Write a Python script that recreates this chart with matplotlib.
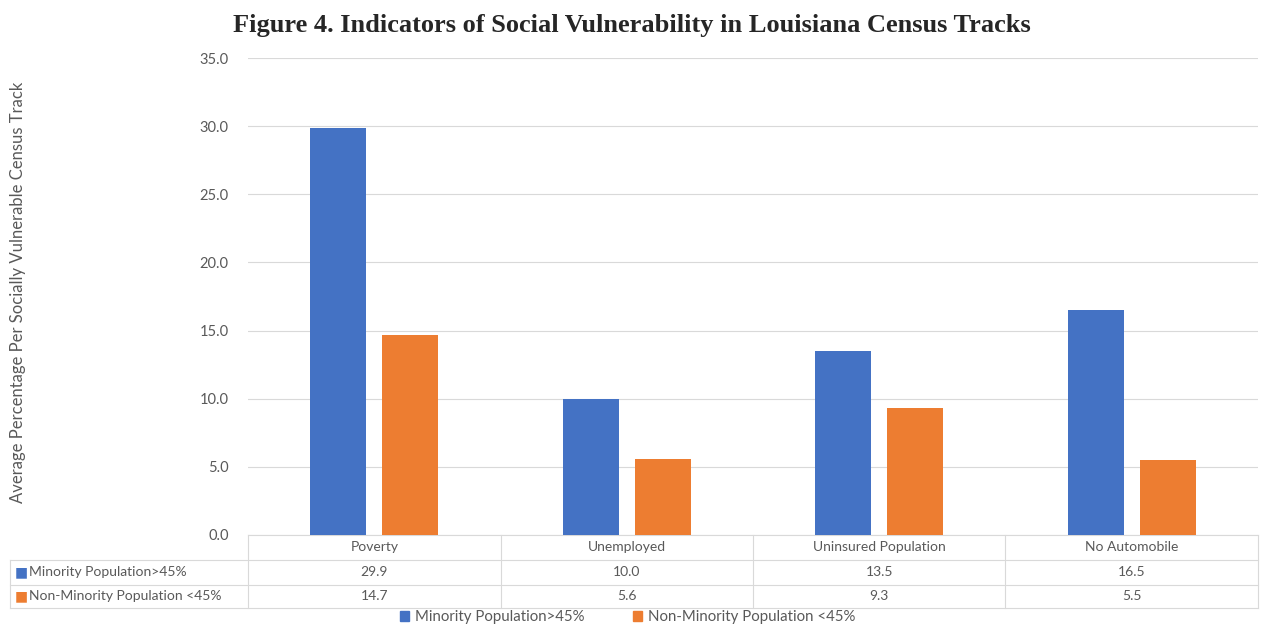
import matplotlib.pyplot as plt
import matplotlib.transforms as mtransforms
from matplotlib.patches import Patch

plt.rcParams['font.family'] = ['Lato', 'DejaVu Sans']

categories = ['Poverty', 'Unemployed', 'Uninsured Population', 'No Automobile']
minority = [29.9, 10.0, 13.5, 16.5]
non_minority = [14.7, 5.6, 9.3, 5.5]
series_names = ['Minority Population>45%', 'Non-Minority Population <45%']
yticks = [0, 5, 10, 15, 20, 25, 30, 35]

blue = '#4472C4'
orange = '#ED7D31'
grey_text = '#595959'
grid_c = '#D9D9D9'
fs = 10

fig = plt.figure(figsize=(12.63, 6.26), dpi=100)
ax = fig.add_axes([0.1964, 0.1454, 0.7996, 0.7619])

x = list(range(len(categories)))
w = 0.222
off = 0.143
ax.bar([i - off for i in x], minority, width=w, color=blue, zorder=3)
ax.bar([i + off for i in x], non_minority, width=w, color=orange, zorder=3)

ax.set_xlim(-0.5, len(categories) - 0.5)
ax.set_ylim(0, 35)
ax.set_yticks(yticks)
ax.set_yticklabels(['%.1f' % t for t in yticks], color=grey_text, fontsize=10.5)
ax.tick_params(axis='y', length=0, pad=14)
ax.set_xticks([])
ax.grid(axis='y', color=grid_c, linewidth=0.8, zorder=0)
for s in ['top', 'right', 'left']:
    ax.spines[s].set_visible(False)
ax.spines['bottom'].set_color(grid_c)

fig.text(18 / 1263, 1 - 292 / 626,
         'Average Percentage Per Socially Vulnerable Census Track',
         rotation=90, ha='center', va='center', color=grey_text, fontsize=12)

fig.text(0.5, 0.96, 'Figure 4. Indicators of Social Vulnerability in Louisiana Census Tracks',
         ha='center', va='center', fontsize=19, fontweight='bold',
         family='Liberation Serif', color='#262626')

# data table below the axis
trans = mtransforms.blended_transform_factory(ax.transData, ax.transAxes)
row_lines = [0, -0.0524, -0.1048, -0.1530]
left_axes = (10 / 1263 - 0.1964) / 0.7996
xl = -0.5 + left_axes * len(categories)
for y in row_lines[1:]:
    ax.plot([xl, len(categories) - 0.5], [y, y], color=grid_c, lw=0.8,
            transform=trans, clip_on=False)
for b in [i - 0.5 for i in range(len(categories) + 1)]:
    ax.plot([b, b], [0, row_lines[-1]], color=grid_c, lw=0.8,
            transform=trans, clip_on=False)
ax.plot([xl, xl], [row_lines[1], row_lines[-1]], color=grid_c, lw=0.8,
        transform=trans, clip_on=False)

mid = [(row_lines[k] + row_lines[k + 1]) / 2 for k in range(3)]
for i, c in enumerate(categories):
    ax.text(i, mid[0], c, transform=trans, ha='center', va='center',
            color=grey_text, fontsize=fs)
    ax.text(i, mid[1], '%.1f' % minority[i], transform=trans, ha='center',
            va='center', color=grey_text, fontsize=fs)
    ax.text(i, mid[2], '%.1f' % non_minority[i], transform=trans, ha='center',
            va='center', color=grey_text, fontsize=fs)

for k, (name, col) in enumerate(zip(series_names, [blue, orange])):
    ax.text(xl + 0.02, mid[k + 1], '\u25A0', transform=trans, ha='left',
            va='center', color=col, fontsize=10, family='DejaVu Sans')
    ax.text(xl + 0.075, mid[k + 1], name, transform=trans, ha='left',
            va='center', color=grey_text, fontsize=fs)

handles = [Patch(color=blue, label=series_names[0]),
           Patch(color=orange, label=series_names[1])]
fig.legend(handles=handles, loc='center', bbox_to_anchor=(0.497, 0.014),
           ncol=2, frameon=False, fontsize=10.8, labelcolor=grey_text,
           handlelength=0.6, handleheight=0.6, handletextpad=0.4,
           columnspacing=3.2)

fig.savefig('out.png', dpi=100)
